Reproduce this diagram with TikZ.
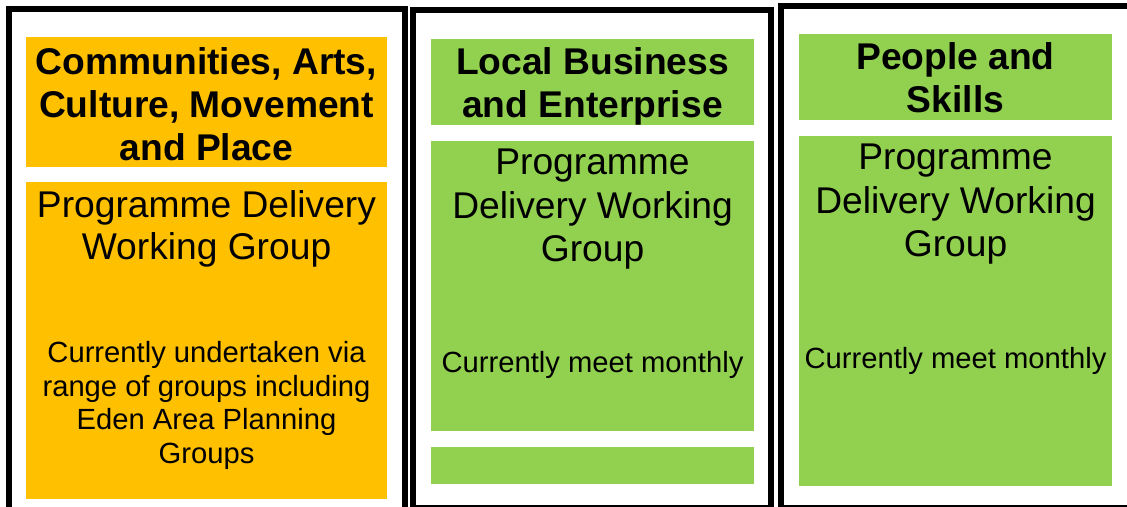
\documentclass[tikz,border=0pt]{standalone}
\usepackage{fontspec}
\setmainfont{Liberation Sans}
\definecolor{orangeB}{HTML}{FFC000}
\definecolor{greenB}{HTML}{92D050}
\begin{document}
\begin{tikzpicture}[x=1pt,y=-1pt,
  frame/.style={draw=black,line width=6pt},
  hdr/.style={font=\fontsize{37.2}{43}\selectfont\bfseries,anchor=base,inner sep=0pt},
  big/.style={font=\fontsize{37.2}{43}\selectfont,anchor=base,inner sep=0pt},
  small/.style={font=\fontsize{29.2}{34}\selectfont,anchor=base,inner sep=0pt}]
\useasboundingbox (0,0) rectangle (1127,506);
\fill[white] (0,0) rectangle (1127,506);
% frames
\draw[frame] (8.5,9) rectangle (405,516);
\draw[frame] (413,10) rectangle (770.5,507.5);
\draw[frame] (780.5,5.5) rectangle (1136,507.5);
% fills
\fill[orangeB] (26,37) rectangle (387,167);
\fill[orangeB] (26,182) rectangle (387,499);
\fill[greenB] (431,39) rectangle (754,125);
\fill[greenB] (431,141) rectangle (754,431);
\fill[greenB] (431,447) rectangle (754,484);
\fill[greenB] (799,34) rectangle (1112,120);
\fill[greenB] (799,136) rectangle (1112,486);
% column 1
\node[hdr] (h1a) at (206.5,74) {Communities, Arts,};
\node[hdr] (h1b) at (206.5,117) {Culture, Movement};
\node[hdr] (h1c) at (206.5,160) {and Place};
\node[big] (b1a) at (206.5,217) {Programme Delivery};
\node[big] (b1b) at (206.5,259) {Working Group};
\node[small] (s1a) at (206.5,362.5) {Currently undertaken via};
\node[small] (s1b) at (206.5,396) {range of groups including};
\node[small] (s1c) at (206.5,429.5) {Eden Area Planning};
\node[small] (s1d) at (206.5,463) {Groups};
% column 2
\node[hdr] (h2a) at (592.5,74) {Local Business};
\node[hdr] (h2b) at (592.5,117) {and Enterprise};
\node[big] (b2a) at (592.5,174) {Programme};
\node[big] (b2b) at (592.5,218) {Delivery Working};
\node[big] (b2c) at (592.5,261) {Group};
\node[small] (s2a) at (592.5,372) {Currently meet monthly};
% column 3
\node[hdr] (h3a) at (955.5,69) {People and};
\node[hdr] (h3b) at (955.5,112) {Skills};
\node[big] (b3a) at (955.5,169) {Programme};
\node[big] (b3b) at (955.5,213) {Delivery Working};
\node[big] (b3c) at (955.5,256) {Group};
\node[small] (s3a) at (955.5,368) {Currently meet monthly};
\end{tikzpicture}
\end{document}
